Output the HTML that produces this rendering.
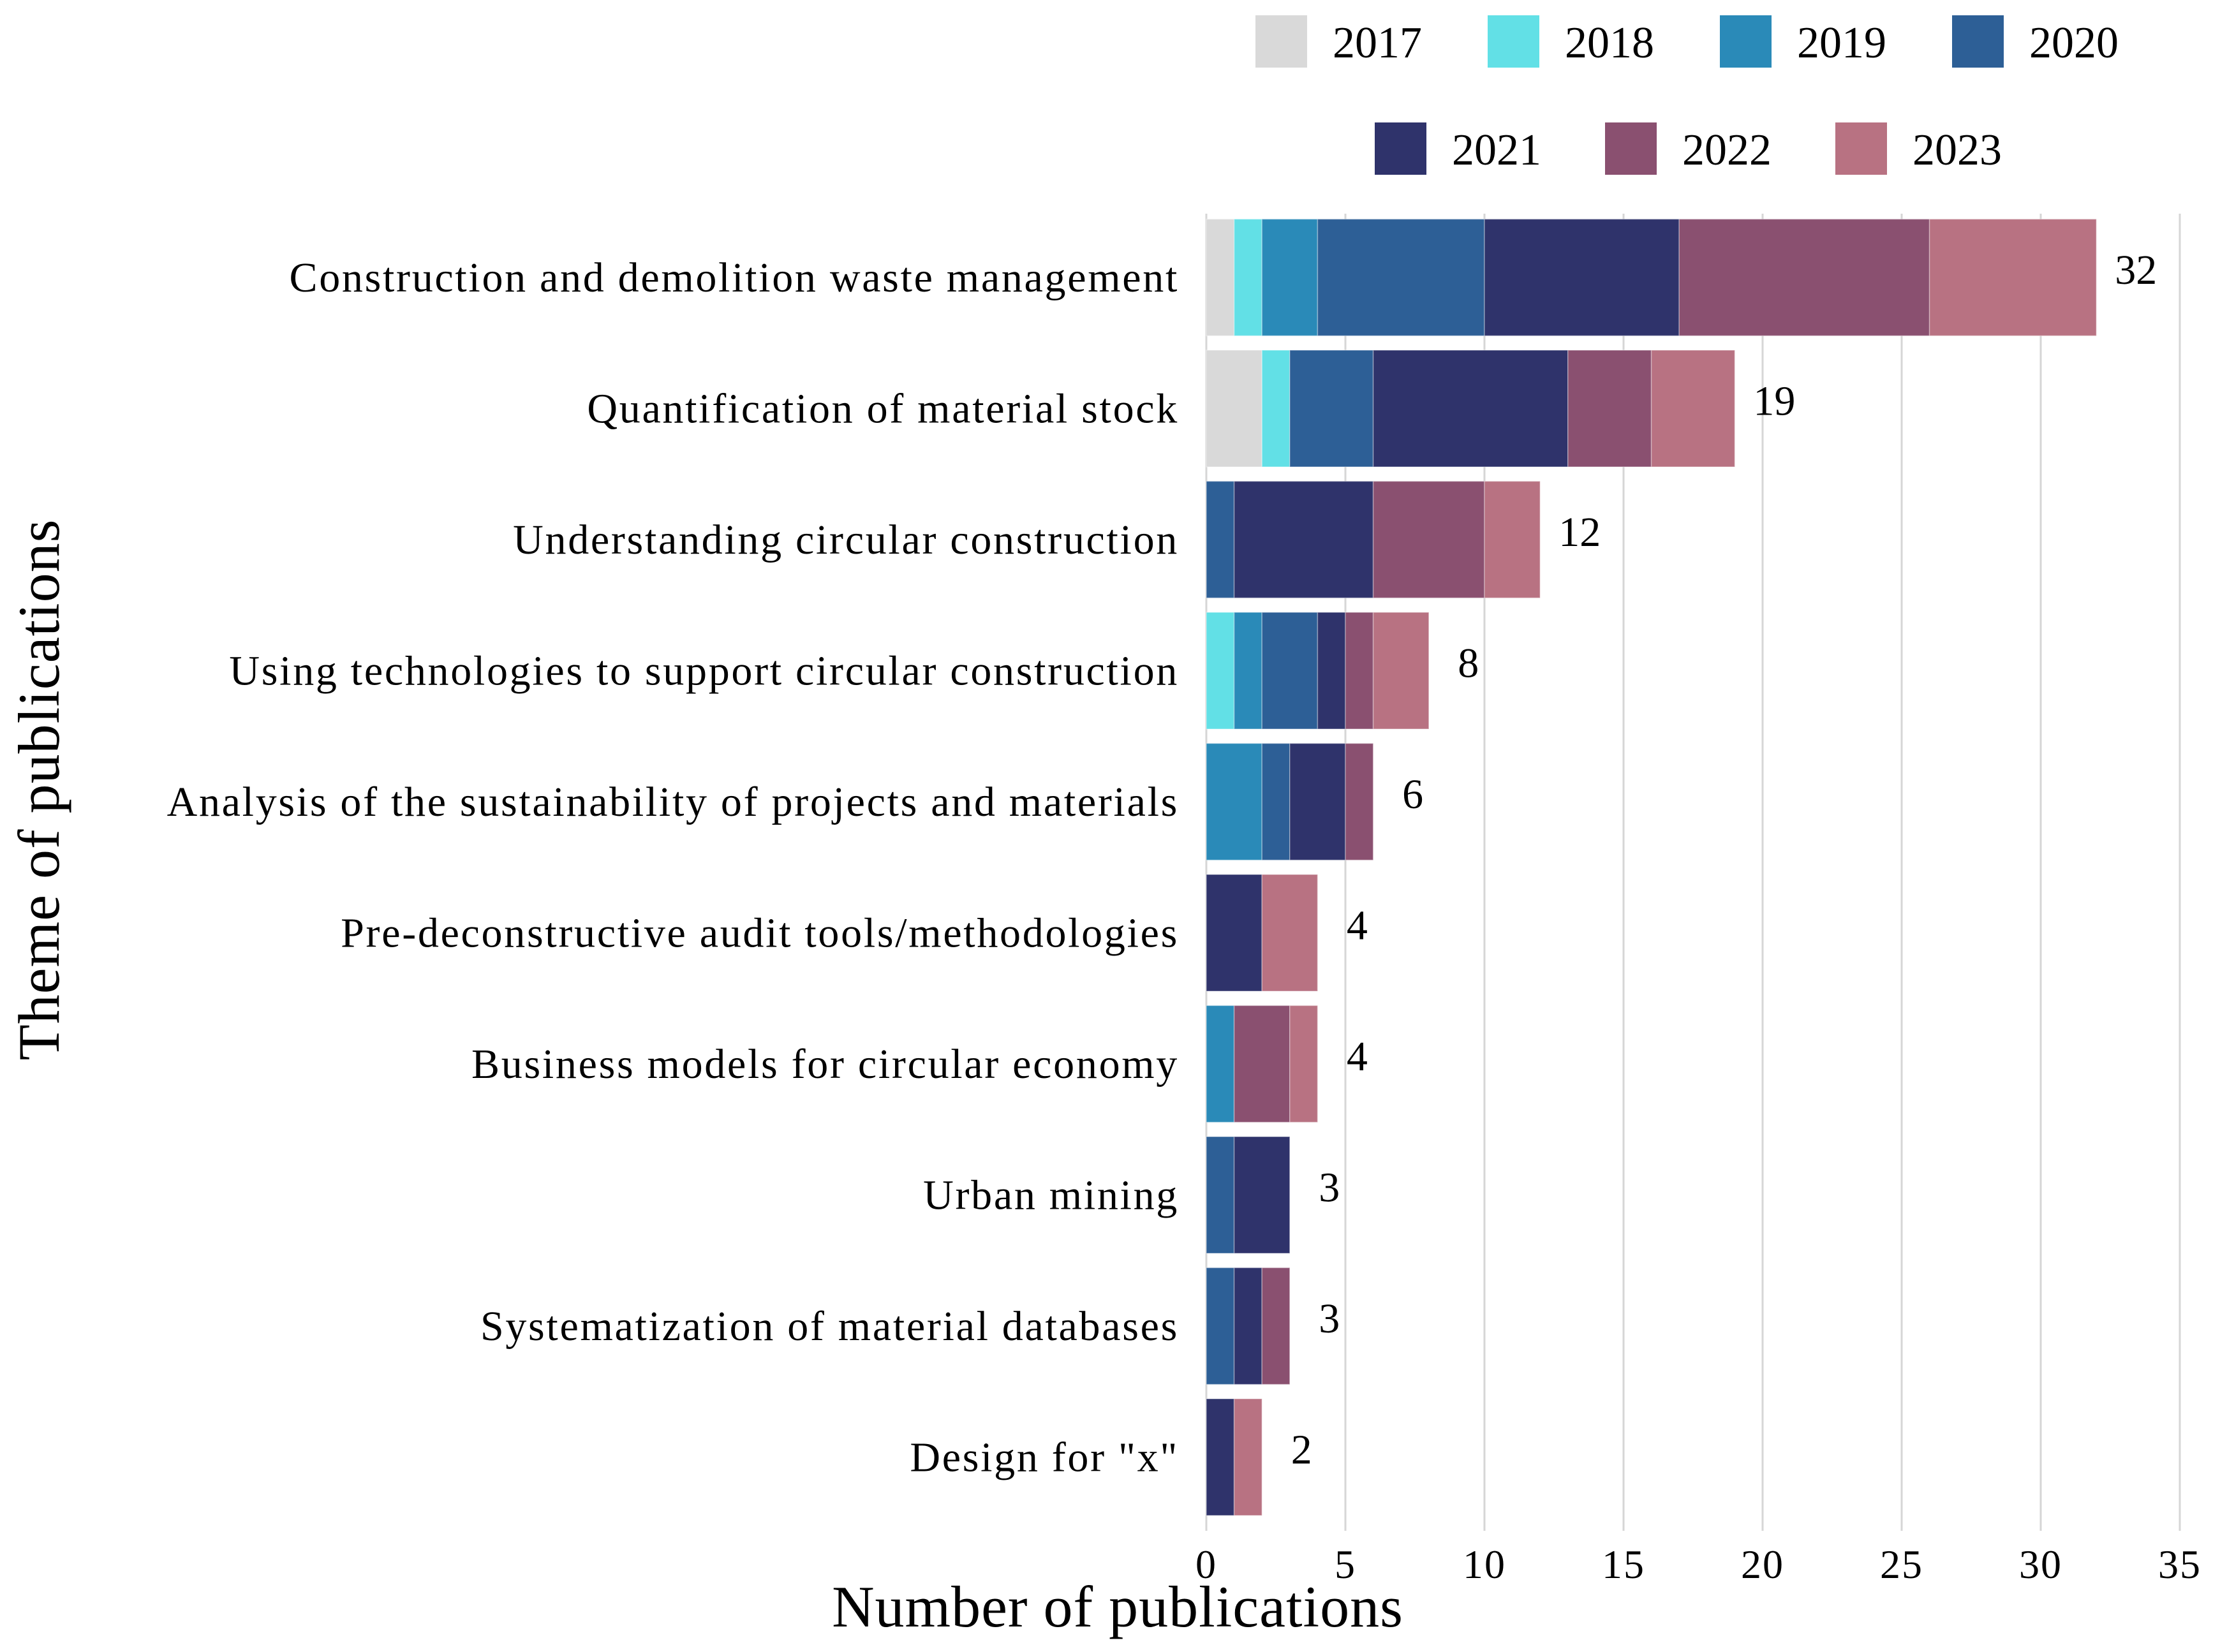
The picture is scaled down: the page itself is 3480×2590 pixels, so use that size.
<!DOCTYPE html>
<html><head><meta charset="utf-8"><style>
html,body{margin:0;padding:0;background:#fff}
svg{display:block;font-family:"Liberation Serif",serif}
</style></head><body>
<svg id="chart" width="3480" height="2590" viewBox="0 0 3480 2590" xmlns="http://www.w3.org/2000/svg">
<g id="grid"></g>
<g id="bars"></g>
<g id="cats"></g>
<g id="totals"></g>
<g id="ticks"></g>
<g id="legend"></g>
<text x="1752" y="2550" font-size="92" letter-spacing="1" text-anchor="middle">Number of publications</text>
<text transform="translate(92,1238) rotate(-90)" font-size="92" letter-spacing="1" text-anchor="middle">Theme of publications</text>
</svg>
<script>
const categories = ["Construction and demolition waste management","Quantification of material stock","Understanding circular construction","Using technologies to support circular construction","Analysis of the sustainability of projects and materials","Pre-deconstructive audit tools/methodologies","Business models for circular economy","Urban mining","Systematization of material databases","Design for \"x\""];
const years = ["2017","2018","2019","2020","2021","2022","2023"];
const colors = ["#d9d9d9","#62e0e6","#2a8ab8","#2d5f96","#2f336b","#8a5070","#b87282"];
const s2017 = [1,2,0,0,0,0,0,0,0,0];
const s2018 = [1,1,0,1,0,0,0,0,0,0];
const s2019 = [2,0,0,1,2,0,1,0,0,0];
const s2020 = [6,3,1,2,1,0,0,1,1,0];
const s2021 = [7,7,5,1,2,2,0,2,1,1];
const s2022 = [9,3,4,1,1,0,2,0,1,0];
const s2023 = [6,3,2,2,0,2,1,0,0,1];
const ticks = [0,5,10,15,20,25,30,35];

const series = [s2017,s2018,s2019,s2020,s2021,s2022,s2023];
const NS = "http://www.w3.org/2000/svg";
const x0 = 1891, unit = 43.6;
const xs = v => x0 + v*unit;
const y0 = 435, band = 205.5, bh = 183;
const yc = i => y0 + i*band;
function mk(tag, attrs, parent){const e=document.createElementNS(NS,tag);for(const k in attrs)e.setAttribute(k,attrs[k]);parent.appendChild(e);return e;}

const grid=document.getElementById('grid'), ticksG=document.getElementById('ticks');
ticks.forEach(t=>{
  const l=mk('line',{x1:xs(t),x2:xs(t),y1:335,y2:2400,stroke:'#d6d6d6','stroke-width':3},grid);
  
  
  const tx=mk('text',{x:xs(t),y:2474,'font-size':64,'letter-spacing':2,'text-anchor':'middle'},ticksG);
  tx.textContent=t;
  
  
});

const barsG=document.getElementById('bars'), catsG=document.getElementById('cats'), totG=document.getElementById('totals');
categories.forEach((c,i)=>{
  let acc=0;
  series.forEach((s,j)=>{
    const v=s[i]; if(!v) return;
    const r=mk('rect',{x:xs(acc),y:yc(i)-bh/2,width:v*unit,height:bh,fill:colors[j],stroke:'#ffffff','stroke-opacity':0.35,'stroke-width':1.5},barsG);
    
    
    acc+=v;
  });
  const lt=mk('text',{x:1848,y:yc(i)+22,'font-size':66,'letter-spacing':2.7,'text-anchor':'end'},catsG);
  lt.textContent=c;
  
  
  const tt=mk('text',{x:xs(acc)+62,y:yc(i)+10,'font-size':66,'text-anchor':'middle'},totG);
  tt.textContent=acc;
  
  
});

const legG=document.getElementById('legend');
years.forEach((y,j)=>{
  let lx, ly;
  if(j<4){lx=1968+j*364; ly=24;} else {lx=2155+(j-4)*361; ly=192;}
  const r=mk('rect',{x:lx,y:ly,width:81,height:82,fill:colors[j]},legG);
  
  
  const t=mk('text',{x:lx+121,y:ly+66,'font-size':70},legG);
  t.textContent=y;
  
  
});
</script>
</body></html>
